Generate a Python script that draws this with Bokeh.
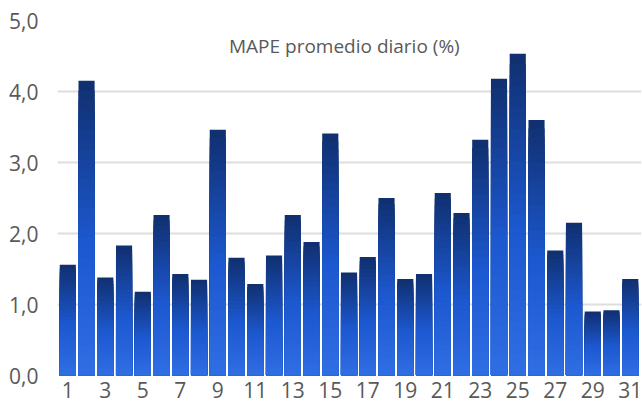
from bokeh.plotting import figure
from bokeh.models import ColumnDataSource, Label, FixedTicker, CustomJSTickFormatter
from bokeh.embed import file_html
from bokeh.resources import INLINE

days = list(range(1, 32))
mape = [1.56, 4.15, 1.38, 1.83, 1.18, 2.26, 1.43, 1.35, 3.46, 1.66,
        1.29, 1.69, 2.26, 1.88, 3.41, 1.45, 1.67, 2.50, 1.36, 1.43,
        2.57, 2.29, 3.32, 4.18, 4.53, 3.60, 1.76, 2.15, 0.90, 0.92, 1.36]
y_ticks = [0, 1, 2, 3, 4, 5]
x_ticks = list(range(1, 32, 2))
title_text = "MAPE promedio diario (%)"

# gradient stops: (fraction from bottom of bar, rgb)
stops = [(0.0, (48, 110, 228)), (0.45, (28, 88, 208)), (1.0, (16, 47, 110))]


def grad_color(f):
    for (f0, c0), (f1, c1) in zip(stops[:-1], stops[1:]):
        if f <= f1:
            t = (f - f0) / (f1 - f0)
            return "#%02x%02x%02x" % tuple(int(round(a + (b - a) * t)) for a, b in zip(c0, c1))
    return "#%02x%02x%02x" % stops[-1][1]


# gradient: overlapping bars from 0, tallest (darkest top) drawn first
N = 30
xs, tops, cols = [], [], []
for i in range(N, 0, -1):
    for d, v in zip(days, mape):
        xs.append(d)
        tops.append(v * i / N)
        cols.append(grad_color((i - 0.5) / N))

src = ColumnDataSource(dict(x=xs, top=tops, color=cols))

p = figure(width=642, height=411, x_range=(0.45, 31.6), y_range=(0, 5),
           output_backend="svg", toolbar_location=None,
           min_border_left=57, min_border_right=1, min_border_top=20,
           min_border_bottom=36)
p.outline_line_color = None
p.background_fill_color = "white"

p.vbar(x="x", bottom=0, top="top", width=0.86, fill_color="color",
       line_color=None, source=src)

p.xgrid.grid_line_color = None
p.ygrid.grid_line_color = "#dedede"
p.ygrid.grid_line_width = 2
p.ygrid.ticker = FixedTicker(ticks=y_ticks)

p.yaxis.ticker = FixedTicker(ticks=y_ticks)
p.yaxis.formatter = CustomJSTickFormatter(code="return tick.toFixed(1).replace('.', ',');")
p.xaxis.ticker = FixedTicker(ticks=x_ticks)

for ax in (p.xaxis[0], p.yaxis[0]):
    ax.axis_line_color = None
    ax.major_tick_line_color = None
    ax.minor_tick_line_color = None
    ax.major_label_text_font = "Open Sans"
    ax.major_label_text_font_size = "21px"
    ax.major_label_text_color = "#595959"
p.yaxis.major_label_standoff = 13
p.xaxis.major_label_standoff = 0

p.add_layout(Label(x=15.75, y=4.64, text=title_text, text_align="center",
                   text_baseline="middle", text_font="Open Sans",
                   text_font_size="19px", text_color="#595959"))

open("out.html", "w").write(file_html(p, INLINE))
